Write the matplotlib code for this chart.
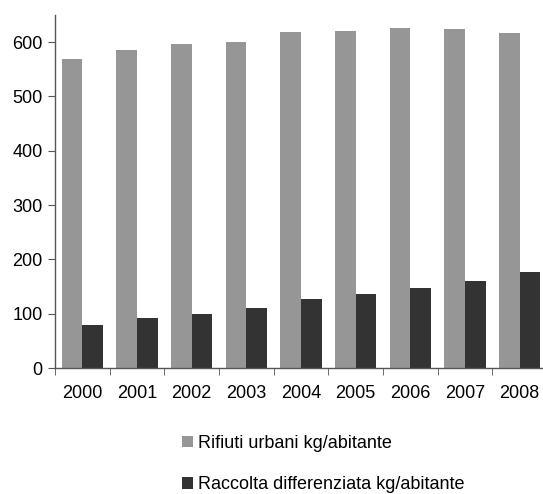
import numpy as np
import matplotlib
matplotlib.use("Agg")
import matplotlib.pyplot as plt

plt.rcParams['font.family'] = ['Liberation Sans', 'DejaVu Sans']

years = ['2000', '2001', '2002', '2003', '2004', '2005', '2006', '2007', '2008']
rifiuti = [569, 585, 596, 600, 618, 620, 626, 624, 617]
raccolta = [80, 92, 99, 110, 127, 136, 147, 160, 176]
labels = ['Rifiuti urbani kg/abitante', 'Raccolta differenziata kg/abitante']

fig = plt.figure(figsize=(5.43, 4.94), dpi=100)
ax = fig.add_axes([55 / 543, 1 - 368 / 494, 492 / 543, (368 - 15) / 494])

x = np.arange(len(years))
w = 0.378
b1 = ax.bar(x - w / 2, rifiuti, w, color='#969696', label=labels[0])
b2 = ax.bar(x + w / 2, raccolta, w, color='#333333', label=labels[1])

ax.set_xlim(-0.5, len(years) - 0.5)
ax.set_ylim(0, 650)
ax.set_yticks(range(0, 700, 100))
ax.set_xticks(x)
ax.set_xticklabels(years)
ax.set_xticks(np.arange(-0.5, len(years), 1), minor=True)
ax.tick_params(axis='x', which='major', length=0, pad=12, labelsize=13)
ax.tick_params(axis='x', which='minor', length=5, direction='out', color='#555555')
ax.tick_params(axis='y', length=5, direction='out', color='#555555', labelsize=13, pad=4)

for s in ['top', 'right']:
    ax.spines[s].set_visible(False)
for s in ['left', 'bottom']:
    ax.spines[s].set_color('#555555')
    ax.spines[s].set_linewidth(1.0)

fig.legend(handles=[b1, b2], labels=labels, loc='center left',
           bbox_to_anchor=(182 / 543, 1 - 464 / 494), frameon=False,
           fontsize=13, handlelength=0.61, handleheight=0.61,
           handletextpad=0.28, labelspacing=1.35, borderpad=0, borderaxespad=0)

fig.savefig('out.png', dpi=100)
